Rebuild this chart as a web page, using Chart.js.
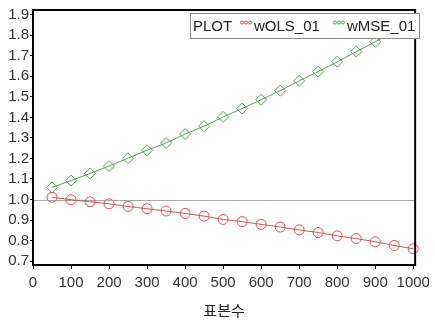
<!DOCTYPE html>
<html><head><meta charset="utf-8">
<script src="https://cdn.jsdelivr.net/npm/chart.js@4/dist/chart.umd.min.js"></script>
<style>html,body{margin:0;padding:0;background:#fff}#wrap{width:435px;height:322px}</style>
</head><body><div id="wrap"><canvas id="c" width="435" height="322"></canvas></div>
<script>
const sampleSizes = [50,100,150,200,250,300,350,400,450,500,550,600,650,700,750,800,850,900,950,1000];
const wOLS_01 = [1.011,0.999,0.989,0.979,0.966,0.955,0.944,0.932,0.919,0.903,0.892,0.879,0.866,0.852,0.839,0.823,0.810,0.794,0.776,0.760];
const wMSE_01 = [1.059,1.092,1.127,1.163,1.201,1.240,1.275,1.319,1.357,1.402,1.443,1.486,1.530,1.578,1.623,1.671,1.720,1.768,1.818,1.872];
const xTicks = [0,100,200,300,400,500,600,700,800,900,1000];
const yTicks = [0.7,0.8,0.9,1.0,1.1,1.2,1.3,1.4,1.5,1.6,1.7,1.8,1.9];
const refValue = 1.0;
const legendTitle = 'PLOT';
const xTitle = '표본수';

const FONT = "'Liberation Sans', Arial, sans-serif";
const RED = 'rgb(214,80,80)';
const GREEN = 'rgb(80,165,80)';

const framePlugin = {
  id: 'frame',
  beforeDatasetsDraw(chart) {
    const {ctx, chartArea: a, scales} = chart;
    const y = scales.y.getPixelForValue(refValue);
    ctx.save();
    ctx.strokeStyle = '#aaaaaa'; ctx.lineWidth = 1;
    ctx.beginPath(); ctx.moveTo(a.left, Math.round(y) + 0.5); ctx.lineTo(a.right, Math.round(y) + 0.5); ctx.stroke();
    ctx.restore();
  },
  afterDatasetsDraw(chart) {
    const {ctx, chartArea: a} = chart;
    ctx.save();
    ctx.strokeStyle = '#000'; ctx.lineWidth = 2;
    ctx.strokeRect(a.left, a.top, a.right - a.left, a.bottom - a.top);
    // legend box
    const bx = 190, by = 13, bw = 229, bh = 25;
    ctx.fillStyle = '#fff'; ctx.fillRect(bx, by, bw, bh);
    ctx.strokeStyle = '#888'; ctx.lineWidth = 1;
    ctx.strokeRect(bx + 0.5, by + 0.5, bw, bh);
    ctx.font = '15px ' + FONT; ctx.fillStyle = '#222'; ctx.textBaseline = 'middle';
    const ty = by + bh / 2 + 1;
    ctx.fillText(legendTitle, bx + 3, ty);
    const items = [{c: RED, t: chart.data.datasets[0].label, x: 240}, {c: GREEN, t: chart.data.datasets[1].label, x: 333}];
    items.forEach(it => {
      ctx.strokeStyle = it.c; ctx.lineWidth = 1;
      for (let i = 0; i < 3; i++) {
        ctx.beginPath(); ctx.arc(it.x + 2 + i * 4, ty - 4, 1.5, 0, Math.PI * 2); ctx.stroke();
      }
      ctx.fillStyle = '#222';
      ctx.fillText(it.t, it.x + 14, ty);
    });
    ctx.restore();
  }
};

new Chart(document.getElementById('c'), {
  type: 'line',
  data: {
    datasets: [
      {label: 'wOLS_01', data: sampleSizes.map((x, i) => ({x, y: wOLS_01[i]})),
        borderColor: RED, borderWidth: 1, pointStyle: 'circle', pointRadius: 5,
        pointBorderColor: RED, pointBackgroundColor: 'rgba(0,0,0,0)', pointBorderWidth: 1, clip: false, tension: 0},
      {label: 'wMSE_01', data: sampleSizes.map((x, i) => ({x, y: wMSE_01[i]})),
        borderColor: GREEN, borderWidth: 1, pointStyle: 'rectRot', pointRadius: 5.5,
        pointBorderColor: GREEN, pointBackgroundColor: 'rgba(0,0,0,0)', pointBorderWidth: 1, clip: false, tension: 0}
    ]
  },
  options: {
    responsive: false, animation: false, devicePixelRatio: 1,
    layout: {padding: {top: 8, right: 15, left: 0, bottom: 0}},
    plugins: {legend: {display: false}, tooltip: {enabled: false}},
    scales: {
      x: {
        type: 'linear', min: 0, max: 1005,
        afterBuildTicks: s => { s.ticks = xTicks.map(v => ({value: v})); },
        afterFit: s => { s.height = 57; },
        grid: {drawOnChartArea: false, drawTicks: true, tickLength: 4, color: '#000', tickWidth: 1},
        border: {display: true, color: '#000', width: 2},
        ticks: {color: '#333', font: {family: FONT, size: 15}, padding: 5, maxRotation: 0, autoSkip: false, callback: v => String(v)},
        title: {display: true, text: xTitle, color: '#222', font: {family: "'Noto Sans CJK KR', sans-serif", size: 15}, padding: {top: 0, bottom: 3}}
      },
      y: {
        type: 'linear', min: 0.681, max: 1.923,
        afterBuildTicks: s => { s.ticks = yTicks.map(v => ({value: v})); },
        afterFit: s => { s.width = 33; },
        grid: {drawOnChartArea: false, drawTicks: true, tickLength: 3, color: '#000', tickWidth: 1},
        border: {display: true, color: '#000', width: 2},
        ticks: {color: '#333', font: {family: FONT, size: 15}, padding: 1, autoSkip: false, callback: v => Number(v).toFixed(1)}
      }
    }
  },
  plugins: [framePlugin]
});
</script>
</body></html>
